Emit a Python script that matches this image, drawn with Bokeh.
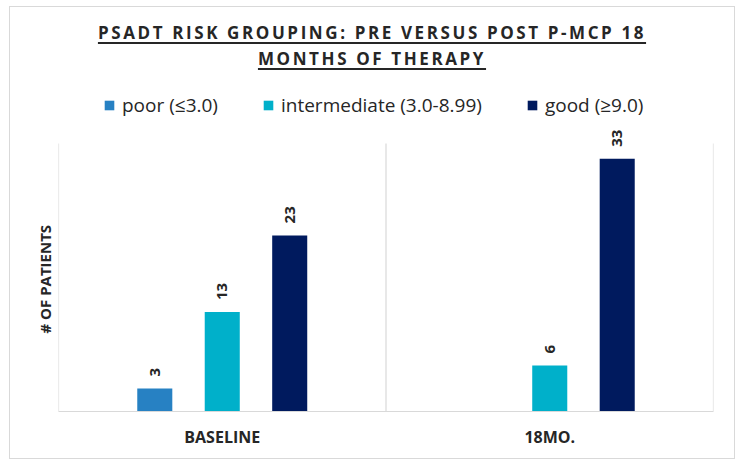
from math import pi

from bokeh.plotting import figure
from bokeh.models import (ColumnDataSource, FactorRange, Range1d, Legend, LegendItem,
                          LabelSet, Title, Div)
from bokeh.transform import dodge
from bokeh.layouts import column
from bokeh.embed import file_html
from bokeh.resources import INLINE
from bokeh.core.properties import value

# ---- data ----
categories = ["BASELINE", "18MO."]
series_keys = ["poor", "intermediate", "good"]
series_names = ["poor (\u22643.0)", "intermediate (3.0-8.99)", "good (\u22659.0)"]
poor = [3, 0]
intermediate = [13, 6]
good = [23, 33]
title_lines = ["PSADT RISK GROUPING: PRE VERSUS POST P-MCP 18", "MONTHS OF THERAPY"]
y_label = "# OF PATIENTS"
value_axis_max = 35

# ---- style ----
colors = ["#2781C3", "#00B0CA", "#001A5E"]
offsets = [-0.206, 0.0, 0.206]
BAR_W = 0.107
FONT = "Open Sans"
TEXT = "#262626"
GRID = "#d9d9d9"
W = 724
DIV_H = 73
FIG_H = 378
# room above the value axis for the legend (frame height / plot-area height)
HEADROOM = 331 / 268

series_values = dict(poor=poor, intermediate=intermediate, good=good)

p = figure(x_range=FactorRange(*categories),
           y_range=Range1d(0, value_axis_max * HEADROOM),
           width=W, height=FIG_H, output_backend="svg", toolbar_location=None,
           min_border_left=48, min_border_right=21, min_border_top=0,
           min_border_bottom=47, outline_line_color=None,
           background_fill_color="white", border_fill_color="white")

src = ColumnDataSource(dict(cat=categories, **series_values))

# category separators (plot-area boundaries)
n = len(categories)
p.segment(x0=list(range(n + 1)), y0=[0] * (n + 1), x1=list(range(n + 1)),
          y1=[value_axis_max] * (n + 1), line_color=GRID, line_width=1.2)

items = []
for key, name, col, off in zip(series_keys, series_names, colors, offsets):
    r = p.vbar(x=dodge("cat", off, range=p.x_range), top=key, width=BAR_W,
               source=src, fill_color=col, line_color=None)
    items.append(LegendItem(label=name, renderers=[r]))
    vals = series_values[key]
    lab_src = ColumnDataSource(dict(
        cat=[c for c, v in zip(categories, vals) if v],
        val=[v for v in vals if v],
        txt=[str(v) for v in vals if v]))
    p.add_layout(LabelSet(x=dodge("cat", off, range=p.x_range), y="val", text="txt",
                          source=lab_src, angle=pi / 2, text_align="left",
                          text_baseline="middle", y_offset=12,
                          text_font=value(FONT), text_font_style="bold",
                          text_font_size="15px", text_color=TEXT))

legend = Legend(items=items, orientation="horizontal", location=(45, 293),
                label_text_font=FONT, label_text_font_size="19px",
                label_text_color=TEXT, glyph_width=12, glyph_height=12,
                label_standoff=7, spacing=44, border_line_color=None,
                background_fill_alpha=0, padding=0, margin=0)
p.add_layout(legend)

p.xgrid.visible = False
p.ygrid.visible = False

p.xaxis.axis_line_color = GRID
p.xaxis.axis_line_width = 1.2
p.xaxis.major_tick_line_color = None
p.xaxis.minor_tick_line_color = None
p.xaxis.major_tick_out = 0
p.xaxis.major_label_standoff = 14
p.xaxis.major_label_text_font = FONT
p.xaxis.major_label_text_font_style = "bold"
p.xaxis.major_label_text_font_size = "16px"
p.xaxis.major_label_text_color = TEXT

p.yaxis.visible = False

# value-axis title on the left, placed beside the plotted value span
p.add_layout(Title(text=y_label, align="left", offset=78, standoff=7,
                   text_font=FONT, text_font_style="bold", text_font_size="15px",
                   text_color=TEXT), "left")

title_html = (
    '<div style="width:%dpx;text-align:center;font-family:\'Open Sans\';'
    'font-weight:bold;font-size:17px;letter-spacing:2.6px;line-height:25.5px;'
    'color:%s;padding-top:13px;">'
    '<span style="text-decoration:underline;text-decoration-thickness:1.5px;'
    'text-underline-offset:3px;">%s</span><br>'
    '<span style="text-decoration:underline;text-decoration-thickness:1.5px;'
    'text-underline-offset:3px;">%s</span></div>'
    % (W, TEXT, title_lines[0], title_lines[1])
)
div = Div(text=title_html, width=W, height=DIV_H, margin=0)

layout = column(div, p, spacing=0,
                styles={"border": "1px solid #d9d9d9", "background": "white",
                        "margin-left": "9px", "margin-top": "6px"})

open("out.html", "w").write(file_html(layout, INLINE))
